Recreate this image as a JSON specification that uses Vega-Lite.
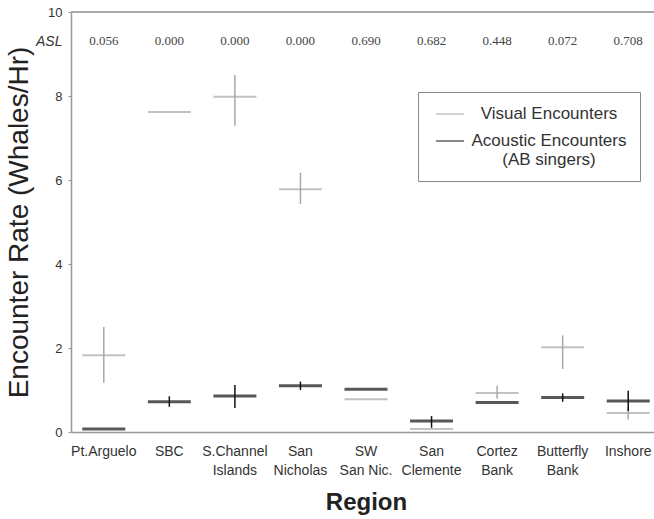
{
  "$schema": "https://vega.github.io/schema/vega-lite/v6.json",
  "width": 590,
  "height": 420,
  "padding": {"left": 5, "top": 6, "right": 4, "bottom": 5},
  "background": "white",
  "config": {
    "view": {"stroke": null},
    "font": "Liberation Sans"
  },
  "datasets": {
    "enc": [
      {"region": "Pt.Arguelo", "type": "Visual Encounters", "mean": 1.83, "lo": 1.17, "hi": 2.5},
      {"region": "Pt.Arguelo", "type": "Acoustic Encounters", "mean": 0.07, "lo": 0.07, "hi": 0.07},
      {"region": "SBC", "type": "Visual Encounters", "mean": 7.62, "lo": 7.62, "hi": 7.62},
      {"region": "SBC", "type": "Acoustic Encounters", "mean": 0.72, "lo": 0.6, "hi": 0.85},
      {"region": "S.Channel|Islands", "type": "Visual Encounters", "mean": 7.98, "lo": 7.29, "hi": 8.5},
      {"region": "S.Channel|Islands", "type": "Acoustic Encounters", "mean": 0.86, "lo": 0.57, "hi": 1.12},
      {"region": "San|Nicholas", "type": "Visual Encounters", "mean": 5.78, "lo": 5.43, "hi": 6.17},
      {"region": "San|Nicholas", "type": "Acoustic Encounters", "mean": 1.1, "lo": 1.0, "hi": 1.2},
      {"region": "SW|San Nic.", "type": "Visual Encounters", "mean": 0.78, "lo": 0.78, "hi": 0.78},
      {"region": "SW|San Nic.", "type": "Acoustic Encounters", "mean": 1.02, "lo": 1.02, "hi": 1.02},
      {"region": "San|Clemente", "type": "Visual Encounters", "mean": 0.07, "lo": 0.07, "hi": 0.07},
      {"region": "San|Clemente", "type": "Acoustic Encounters", "mean": 0.26, "lo": 0.1, "hi": 0.38},
      {"region": "Cortez|Bank", "type": "Visual Encounters", "mean": 0.93, "lo": 0.8, "hi": 1.1},
      {"region": "Cortez|Bank", "type": "Acoustic Encounters", "mean": 0.7, "lo": 0.7, "hi": 0.7},
      {"region": "Butterfly|Bank", "type": "Visual Encounters", "mean": 2.02, "lo": 1.5, "hi": 2.3},
      {"region": "Butterfly|Bank", "type": "Acoustic Encounters", "mean": 0.82, "lo": 0.72, "hi": 0.92},
      {"region": "Inshore", "type": "Visual Encounters", "mean": 0.45, "lo": 0.3, "hi": 0.6},
      {"region": "Inshore", "type": "Acoustic Encounters", "mean": 0.74, "lo": 0.5, "hi": 0.98}
    ],
    "asl": [
      {"region": "Pt.Arguelo", "asl": "0.056"},
      {"region": "SBC", "asl": "0.000"},
      {"region": "S.Channel|Islands", "asl": "0.000"},
      {"region": "San|Nicholas", "asl": "0.000"},
      {"region": "SW|San Nic.", "asl": "0.690"},
      {"region": "San|Clemente", "asl": "0.682"},
      {"region": "Cortez|Bank", "asl": "0.448"},
      {"region": "Butterfly|Bank", "asl": "0.072"},
      {"region": "Inshore", "asl": "0.708"}
    ]
  },
  "encoding": {
    "x": {
      "field": "region",
      "type": "nominal",
      "sort": null,
      "scale": {"paddingInner": 0, "paddingOuter": 0},
      "axis": {
        "title": "Region",
        "titleFontSize": 24,
        "titleFontWeight": "bold",
        "titleColor": "#222",
        "titlePadding": 13,
        "labelAngle": 0,
        "labelExpr": "split(datum.label, '|')",
        "labelFontSize": 14,
        "labelColor": "#333",
        "labelLineHeight": 19,
        "labelPadding": 12,
        "ticks": false,
        "domainColor": "#999",
        "domainWidth": 1.5
      }
    }
  },
  "layer": [
    {
      "data": {"name": "asl"},
      "mark": {"type": "rule", "color": "#aaa", "strokeWidth": 1.5},
      "encoding": {"x": null, "y": {"datum": 10, "type": "quantitative"}}
    },
    {
      "data": {"name": "asl"},
      "mark": {"type": "text", "font": "Liberation Serif", "fontSize": 13, "color": "#444"},
      "encoding": {
        "y": {"datum": 9.3, "type": "quantitative"},
        "text": {"field": "asl"}
      }
    },
    {
      "data": {"name": "enc"},
      "transform": [{"filter": "datum.type == 'Visual Encounters'"}],
      "mark": {"type": "rule", "color": "#a8a8a8", "strokeWidth": 1.5},
      "encoding": {
        "y": {"field": "lo", "type": "quantitative"},
        "y2": {"field": "hi"}
      }
    },
    {
      "data": {"name": "enc"},
      "transform": [{"filter": "datum.type == 'Visual Encounters'"}],
      "mark": {"type": "tick", "size": 43, "thickness": 2},
      "encoding": {
        "y": {"field": "mean", "type": "quantitative"},
        "color": {"field": "type", "type": "nominal"}
      }
    },
    {
      "data": {"name": "enc"},
      "transform": [{"filter": "datum.type == 'Acoustic Encounters'"}],
      "mark": {"type": "rule", "color": "#111", "strokeWidth": 1.5},
      "encoding": {
        "y": {"field": "lo", "type": "quantitative"},
        "y2": {"field": "hi"}
      }
    },
    {
      "data": {"name": "enc"},
      "transform": [{"filter": "datum.type == 'Acoustic Encounters'"}],
      "mark": {"type": "tick", "size": 43, "thickness": 3},
      "encoding": {
        "y": {
          "field": "mean",
          "type": "quantitative",
          "scale": {"domain": [0, 10], "nice": false},
          "axis": {
            "title": "Encounter Rate (Whales/Hr)",
            "titleFontSize": 28,
            "titleFontWeight": "normal",
            "titleColor": "#222",
            "titlePadding": 2,
            "values": [0, 2, 4, 6, 8, 9.3, 10],
            "labelExpr": "datum.value > 9 && datum.value < 9.9 ? 'ASL' : datum.label",
            "labelFontStyle": {"condition": {"test": "datum.value > 9 && datum.value < 9.9", "value": "italic"}, "value": "normal"},
            "labelFontSize": {"condition": {"test": "datum.value > 9 && datum.value < 9.9", "value": 14}, "value": 13},
            "labelColor": "#333",
            "labelPadding": 6,
            "tickSize": 3,
            "tickColor": "#999",
            "tickOpacity": {"condition": {"test": "datum.value > 9 && datum.value < 9.9", "value": 0}, "value": 1},
            "grid": false,
            "domainColor": "#999",
            "domainWidth": 1.5
          }
        },
        "color": {
          "field": "type",
          "type": "nominal",
          "scale": {"domain": ["Visual Encounters", "Acoustic Encounters"], "range": ["#a8a8a8", "#111111"]},
          "legend": {
            "title": null,
            "orient": "none",
            "legendX": 347,
            "legendY": 80,
            "symbolType": "M-1.55,-0.08H1.55V0.08H-1.55Z",
            "symbolSize": 324,
            "symbolOffset": 10,
            "symbolStrokeWidth": 0,
            "labelFontSize": 17,
            "labelColor": "#333",
            "labelExpr": "datum.label == 'Acoustic Encounters' ? ['Acoustic Encounters', '(AB singers)'] : datum.label",
            "labelBaseline": "middle",
            "labelAlign": "center",
            "labelOffset": 90,
            "labelLineHeight": 20,
            "rowPadding": 10,
            "strokeColor": "#888",
            "padding": 13,
            "fillColor": "white",
            "cornerRadius": 0
          }
        }
      }
    }
  ],
  "resolve": {"scale": {"color": "shared"}}
}
